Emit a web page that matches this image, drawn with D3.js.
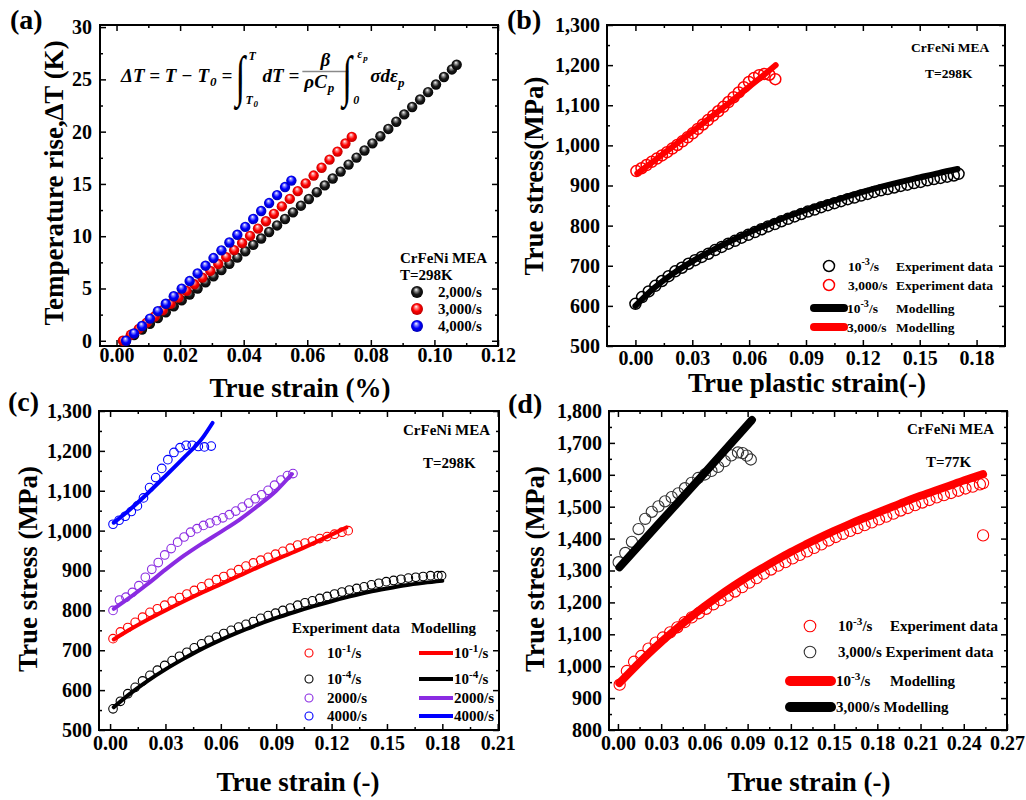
<!DOCTYPE html>
<html>
<head>
<meta charset="utf-8">
<script src="https://cdn.jsdelivr.net/npm/d3@7"></script>
<style>
  body { margin: 0; background: #fff; }
  svg text { font-family: "Liberation Serif", "Times New Roman", serif; font-weight: bold; fill: #000; }
</style>
</head>
<body>
<svg id="fig" width="1026" height="800"></svg>
<script>
// ---------- panel (a): temperature rise, [strain, dT] ----------
const aBlack = [[0.0030,0],[0.0055,0.54],[0.0080,1.08],[0.0105,1.63],[0.0130,2.18],[0.0155,2.73],[0.0180,3.29],[0.0205,3.86],[0.0230,4.43],[0.0255,5.00],[0.0280,5.59],[0.0305,6.17],[0.0330,6.76],[0.0355,7.36],[0.0380,7.95],[0.0405,8.56],[0.0430,9.17],[0.0455,9.78],[0.0480,10.40],[0.0505,11.03],[0.0530,11.65],[0.0555,12.28],[0.0580,12.92],[0.0605,13.56],[0.0630,14.21],[0.0655,14.86],[0.0680,15.52],[0.0705,16.18],[0.0730,16.85],[0.0755,17.52],[0.0780,18.20],[0.0805,18.88],[0.0830,19.56],[0.0855,20.26],[0.0880,20.95],[0.0905,21.65],[0.0930,22.36],[0.0955,23.07],[0.0980,23.78],[0.1005,24.51],[0.1030,25.23],[0.1055,25.95],[0.1070,26.40]];
const aRed = [[0.0020,0],[0.0045,0.57],[0.0070,1.14],[0.0095,1.73],[0.0120,2.32],[0.0145,2.92],[0.0170,3.53],[0.0195,4.14],[0.0220,4.77],[0.0245,5.40],[0.0270,6.04],[0.0295,6.68],[0.0320,7.34],[0.0345,8.00],[0.0370,8.67],[0.0395,9.35],[0.0420,10.03],[0.0445,10.73],[0.0470,11.43],[0.0495,12.14],[0.0520,12.85],[0.0545,13.57],[0.0570,14.31],[0.0595,15.05],[0.0620,15.80],[0.0645,16.55],[0.0670,17.32],[0.0695,18.09],[0.0720,18.87],[0.0740,19.50]];
const aBlue = [[0.0030,0],[0.0055,0.70],[0.0080,1.41],[0.0105,2.12],[0.0130,2.83],[0.0155,3.54],[0.0180,4.26],[0.0205,4.99],[0.0230,5.71],[0.0255,6.44],[0.0280,7.18],[0.0305,7.91],[0.0330,8.65],[0.0355,9.40],[0.0380,10.14],[0.0405,10.89],[0.0430,11.65],[0.0455,12.41],[0.0480,13.17],[0.0505,13.93],[0.0530,14.70],[0.0550,15.32]];
const aLabels = ['2,000/s', '3,000/s', '4,000/s'];
const aXTicks = [0, 0.02, 0.04, 0.06, 0.08, 0.10, 0.12];
const aYTicks = [0, 5, 10, 15, 20, 25, 30];

// ---------- panel (b): 298K, plastic strain ----------
const bExpSlow = [[0,605],[0.0035,622],[0.007,636],[0.0105,650],[0.014,662],[0.0175,674],[0.021,686],[0.0245,695],[0.028,705],[0.0315,714],[0.035,722],[0.0385,730],[0.042,739],[0.0455,747],[0.049,755],[0.0525,762],[0.056,770],[0.0595,777],[0.063,784],[0.0665,791],[0.07,798],[0.0735,804],[0.077,811],[0.0805,817],[0.084,823],[0.0875,829],[0.091,835],[0.0945,840],[0.098,846],[0.1015,851],[0.105,856],[0.1085,861],[0.112,866],[0.1155,870],[0.119,875],[0.1225,879],[0.126,884],[0.1295,888],[0.133,891],[0.1365,895],[0.14,899],[0.1435,902],[0.147,906],[0.1505,909],[0.154,913],[0.1575,916],[0.161,919],[0.1645,922],[0.168,925],[0.1705,929]];
const bExpFast = [[0.0005,936],[0.0032,943],[0.0059,951],[0.0086,959],[0.0113,967],[0.014,975],[0.0167,983],[0.0194,992],[0.0221,1001],[0.0248,1010],[0.0275,1020],[0.0302,1030],[0.0329,1041],[0.0356,1052],[0.0383,1063],[0.041,1074],[0.0437,1085],[0.0464,1096],[0.0491,1108],[0.0518,1120],[0.0545,1132],[0.0572,1145],[0.0599,1158],[0.0626,1168],[0.0653,1175],[0.068,1178],[0.0707,1176],[0.0738,1165]];
const bModSlow = [[0,600],[0.01,645],[0.02,681],[0.03,711],[0.04,737],[0.05,761],[0.06,783],[0.07,803],[0.08,822],[0.09,839],[0.10,855],[0.11,870],[0.12,884],[0.13,897],[0.14,909],[0.15,920],[0.16,931],[0.17,941]];
const bModFast = [[0.001,930],[0.01,962],[0.02,998],[0.03,1034],[0.04,1071],[0.05,1108],[0.06,1146],[0.07,1184],[0.074,1200]];
const bXTicks = [0, 0.03, 0.06, 0.09, 0.12, 0.15, 0.18];
const bYTicks = [500, 600, 700, 800, 900, 1000, 1100, 1200, 1300];

// ---------- panel (c): 298K, four rates ----------
const cExpM1 = [[0.0016,729],[0.0056,746],[0.0096,757],[0.0136,770],[0.0176,783],[0.0216,795],[0.0256,804],[0.0296,813],[0.0336,823],[0.0376,832],[0.0416,841],[0.0456,850],[0.0496,859],[0.0536,868],[0.0576,877],[0.0616,885],[0.0656,893],[0.0696,902],[0.0736,911],[0.0776,919],[0.0816,926],[0.0856,933],[0.0896,941],[0.0936,948],[0.0976,956],[0.1016,964],[0.1056,969],[0.1096,974],[0.1136,980],[0.1176,985],[0.1216,991],[0.1256,996],[0.1290,1000]];
const cExpM4 = [[0.0016,553],[0.0056,572],[0.0096,591],[0.0136,607],[0.0176,623],[0.0216,637],[0.0256,650],[0.0296,662],[0.0336,674],[0.0376,685],[0.0416,695],[0.0456,706],[0.0496,716],[0.0536,725],[0.0576,733],[0.0616,742],[0.0656,750],[0.0696,758],[0.0736,765],[0.0776,772],[0.0816,780],[0.0856,787],[0.0896,793],[0.0936,800],[0.0976,806],[0.1016,813],[0.1056,819],[0.1096,824],[0.1136,830],[0.1176,835],[0.1216,841],[0.1256,846],[0.1296,851],[0.1336,855],[0.1376,859],[0.1416,864],[0.1456,868],[0.1496,872],[0.1536,875],[0.1576,878],[0.1616,881],[0.1656,883],[0.1696,885],[0.1736,887],[0.1776,887],[0.1796,887]];
const cExp2000 = [[0.0016,800],[0.0051,826],[0.0086,833],[0.0121,845],[0.0156,862],[0.0191,883],[0.0226,903],[0.0261,920],[0.0296,939],[0.0331,955],[0.0366,971],[0.0401,984],[0.0436,996],[0.0471,1005],[0.0506,1013],[0.0541,1019],[0.0576,1025],[0.0611,1032],[0.0646,1040],[0.0681,1049],[0.0716,1059],[0.0751,1069],[0.0786,1080],[0.0821,1090],[0.0856,1101],[0.0891,1114],[0.0926,1127],[0.0961,1138],[0.0991,1143]];
const cExp4000 = [[0.0016,1016],[0.0049,1026],[0.0082,1036],[0.0115,1048],[0.0148,1062],[0.0181,1082],[0.0214,1108],[0.0247,1133],[0.0280,1156],[0.0313,1178],[0.0346,1196],[0.0379,1208],[0.0412,1214],[0.0445,1214],[0.0478,1211],[0.0511,1210],[0.0548,1212]];
const cModM1 = [[0.002,727],[0.01,750],[0.02,776],[0.03,800],[0.04,823],[0.05,845],[0.06,866],[0.07,887],[0.08,908],[0.09,928],[0.10,947],[0.11,968],[0.12,990],[0.128,1008]];
const cModM4 = [[0.002,557],[0.01,588],[0.02,622],[0.03,652],[0.04,679],[0.05,704],[0.06,726],[0.07,746],[0.08,764],[0.09,781],[0.10,796],[0.11,810],[0.12,823],[0.13,835],[0.14,846],[0.15,855],[0.16,863],[0.17,869],[0.18,874]];
const cMod2000 = [[0.002,804],[0.01,830],[0.02,865],[0.03,902],[0.04,937],[0.05,968],[0.06,997],[0.07,1027],[0.08,1062],[0.09,1100],[0.0985,1142]];
const cMod4000 = [[0.002,1020],[0.01,1050],[0.02,1092],[0.03,1137],[0.04,1183],[0.05,1232],[0.0555,1270]];
const cRates = [['10', '-1', '/s'], ['10', '-4', '/s'], ['2000/s', '', ''], ['4000/s', '', '']];
const cXTicks = [0, 0.03, 0.06, 0.09, 0.12, 0.15, 0.18, 0.21];
const cYTicks = [500, 600, 700, 800, 900, 1000, 1100, 1200, 1300];

// ---------- panel (d): 77K ----------
const dExpSlow = [[0.0012,942],[0.0062,985],[0.0112,1014],[0.0162,1032],[0.0212,1055],[0.0262,1074],[0.0312,1090],[0.0362,1106],[0.0412,1122],[0.0462,1138],[0.0512,1153],[0.0562,1166],[0.0612,1180],[0.0662,1194],[0.0712,1207],[0.0762,1221],[0.0812,1234],[0.0862,1248],[0.0912,1262],[0.0962,1276],[0.1012,1290],[0.1062,1303],[0.1112,1315],[0.1162,1326],[0.1212,1338],[0.1262,1349],[0.1312,1360],[0.1362,1371],[0.1412,1382],[0.1462,1394],[0.1512,1405],[0.1562,1415],[0.1612,1424],[0.1662,1433],[0.1712,1442],[0.1762,1451],[0.1812,1460],[0.1862,1469],[0.1912,1478],[0.1962,1488],[0.2012,1496],[0.2062,1505],[0.2112,1513],[0.2162,1521],[0.2212,1529],[0.2262,1536],[0.2312,1543],[0.2362,1550],[0.2412,1557],[0.2462,1563],[0.2512,1570],[0.2534,1574],[0.2534,1410]];
const dExpFast = [[0.0005,1326],[0.0051,1355],[0.0097,1390],[0.0143,1430],[0.0189,1462],[0.0235,1484],[0.0281,1501],[0.0327,1517],[0.0373,1530],[0.0419,1542],[0.0465,1558],[0.0511,1575],[0.0557,1590],[0.0603,1601],[0.0649,1612],[0.0695,1625],[0.0741,1643],[0.0787,1661],[0.0833,1670],[0.0865,1668],[0.0895,1660],[0.0922,1648]];
const dModSlow = [[0.001,947],[0.01,989],[0.02,1034],[0.03,1076],[0.04,1115],[0.05,1152],[0.06,1187],[0.07,1220],[0.08,1251],[0.09,1280],[0.10,1307],[0.11,1333],[0.12,1358],[0.13,1381],[0.14,1403],[0.15,1424],[0.16,1444],[0.17,1463],[0.18,1481],[0.19,1499],[0.20,1517],[0.21,1534],[0.22,1550],[0.23,1566],[0.24,1582],[0.2534,1602]];
const dModFast = [[0.001,1310],[0.03,1455],[0.06,1605],[0.093,1772]];
const dXTicks = [0, 0.03, 0.06, 0.09, 0.12, 0.15, 0.18, 0.21, 0.24, 0.27];
const dYTicks = [800, 900, 1000, 1100, 1200, 1300, 1400, 1500, 1600, 1700, 1800];

const RED = '#ff0000', BLUE = '#0000ff', PURPLE = '#8a2be2';

const svg = d3.select('#fig');
const defs = svg.append('defs');

// shaded balls for panel (a)
function ball(id, light, mid, dark) {
  const gr = defs.append('radialGradient').attr('id', id)
    .attr('cx', '50%').attr('cy', '50%').attr('r', '55%').attr('fx', '42%').attr('fy', '28%');
  gr.append('stop').attr('offset', '0%').attr('stop-color', '#fff');
  gr.append('stop').attr('offset', '22%').attr('stop-color', light);
  gr.append('stop').attr('offset', '55%').attr('stop-color', mid);
  gr.append('stop').attr('offset', '100%').attr('stop-color', dark);
}
ball('ballBlack', '#9a9a9a', '#1a1a1a', '#000');
ball('ballRed', '#ff8c8c', '#ff0000', '#b00000');
ball('ballBlue', '#8c8cff', '#0000ff', '#0000a8');

function buildPanel(p) {
  const x = d3.scaleLinear().domain(p.xDomain).range([p.left, p.right]);
  const y = d3.scaleLinear().domain(p.yDomain).range([p.bottom, p.top]);
  const g = svg.append('g');

  const axes = [
    [d3.axisBottom(x).tickValues(p.xTicks).tickFormat(d3.format('.2f')).tickPadding(p.xPad), p.bottom, 'x', -6],
    [d3.axisBottom(x).tickValues(p.xMinor).tickFormat(''), p.bottom, 'x', -3],
    [d3.axisTop(x).tickValues(p.xTicks).tickFormat(''), p.top, 'x', -6],
    [d3.axisTop(x).tickValues(p.xMinor).tickFormat(''), p.top, 'x', -3],
    [d3.axisLeft(y).tickValues(p.yTicks).tickFormat(p.yFormat).tickPadding(p.yPad), p.left, 'y', -6],
    [d3.axisLeft(y).tickValues(p.yMinor).tickFormat(''), p.left, 'y', -3],
    [d3.axisRight(y).tickValues(p.yTicks).tickFormat(''), p.right, 'y', -6],
    [d3.axisRight(y).tickValues(p.yMinor).tickFormat(''), p.right, 'y', -3]
  ];
  axes.forEach(([ax, pos, dir, size]) => {
    const a = g.append('g')
      .attr('transform', dir === 'x' ? `translate(0,${pos})` : `translate(${pos},0)`)
      .call(ax.tickSizeInner(size).tickSizeOuter(0));
    a.attr('font-size', 20).attr('font-family', null);
    a.select('.domain').remove();
    a.selectAll('line').attr('stroke', '#000').attr('stroke-width', 1.5);
  });

  g.append('rect')
    .attr('x', p.left).attr('y', p.top)
    .attr('width', p.right - p.left).attr('height', p.bottom - p.top)
    .attr('fill', 'none').attr('stroke', '#000').attr('stroke-width', 2);

  svg.append('text').attr('x', p.tag[0]).attr('y', p.tag[1])
    .attr('font-size', 28).text(p.tagText);
  svg.append('text').attr('x', p.xTitle[0]).attr('y', p.xTitle[1])
    .attr('text-anchor', 'middle').attr('font-size', 27).text(p.xTitleText);
  svg.append('text')
    .attr('transform', `translate(${p.yTitle[0]},${p.yTitle[1]}) rotate(-90)`)
    .attr('text-anchor', 'middle').attr('font-size', 27).text(p.yTitleText);

  const plot = svg.append('g');
  return { x, y, plot };
}

function openCircles(panel, data, color, r, sw) {
  panel.plot.append('g').selectAll('circle').data(data).join('circle')
    .attr('cx', d => panel.x(d[0])).attr('cy', d => panel.y(d[1]))
    .attr('r', r).attr('fill', 'none').attr('stroke', color).attr('stroke-width', sw);
}

function modelLine(panel, data, color, w) {
  panel.plot.append('path').datum(data)
    .attr('d', d3.line().x(d => panel.x(d[0])).y(d => panel.y(d[1])).curve(d3.curveMonotoneX))
    .attr('fill', 'none').attr('stroke', color).attr('stroke-width', w)
    .attr('stroke-linecap', 'round').attr('stroke-linejoin', 'round');
}

function rateText(sel, base, sup, tail) {
  sel.append('tspan').text(base);
  if (sup) {
    sel.append('tspan').attr('dy', -6).attr('font-size', '0.75em').text(sup);
    sel.append('tspan').attr('dy', 6).text(tail);
  }
}

function note(x, y, size, str) {
  svg.append('text').attr('x', x).attr('y', y).attr('font-size', size).text(str);
}

// ================= (a) =================
const pa = buildPanel({
  left: 100, right: 498, top: 25, bottom: 346,
  xDomain: [-0.0052, 0.12], yDomain: [-0.5, 30.2],
  xTicks: aXTicks, xMinor: [0.01, 0.03, 0.05, 0.07, 0.09, 0.11],
  yTicks: aYTicks, yMinor: [2.5, 7.5, 12.5, 17.5, 22.5, 27.5],
  yFormat: d3.format('d'), xPad: 2, yPad: 8,
  tag: [10, 29], tagText: '(a)',
  xTitle: [300, 397], xTitleText: 'True strain (%)',
  yTitle: [63, 183], yTitleText: 'Temperature rise,\u2206T (K)'
});
[[aBlack, 'ballBlack'], [aRed, 'ballRed'], [aBlue, 'ballBlue']].forEach(([data, fill]) => {
  pa.plot.append('g').selectAll('circle').data(data).join('circle')
    .attr('cx', d => pa.x(d[0])).attr('cy', d => pa.y(d[1]))
    .attr('r', 5.2).attr('fill', `url(#${fill})`);
});
note(400, 263, 15, 'CrFeNi MEA');
note(400, 280, 15, 'T=298K');
['ballBlack', 'ballRed', 'ballBlue'].forEach((fill, i) => {
  const cy = 292 + i * 17;
  svg.append('circle').attr('cx', 417).attr('cy', cy).attr('r', 6).attr('fill', `url(#${fill})`);
  note(438, cy + 5, 15, aLabels[i]);
});

// equation, laid out left to right with measured widths
const eq = svg.append('g');
function eqText(x, y, size, str, anchor) {
  const t = eq.append('text').attr('x', x).attr('y', y).attr('font-size', size)
    .attr('font-style', 'italic').attr('text-anchor', anchor || 'start').text(str);
  return t.node().getComputedTextLength();
}
function integral(x) {
  eq.append('text').attr('transform', `translate(${x},95) scale(0.62,1)`)
    .attr('font-size', 56).attr('font-weight', 'normal').text('\u222B');
}
const eqBase = 82;
let cx = 121;
cx += eqText(cx, eqBase, 19, '\u0394T = T \u2212 T');
cx += eqText(cx + 1, eqBase + 4, 13, '0') + 6;
cx += eqText(cx, eqBase, 19, '=') + 3;
integral(cx);
eqText(cx + 13, 60, 12, 'T');
eqText(cx + 10, 104, 12, 'T');
eqText(cx + 18, 107, 9, '0');
cx += 27;
cx += eqText(cx, eqBase, 19, 'dT') + 5;
cx += eqText(cx, eqBase, 19, '=') + 3;
eq.append('line').attr('x1', cx).attr('x2', cx + 46).attr('y1', 71.5).attr('y2', 71.5)
  .attr('stroke', '#8a8a8a').attr('stroke-width', 1.3);
eqText(cx + 23, 66, 19, '\u03B2', 'middle');
const rc = eqText(cx + 2, 88, 19, '\u03C1C');
eqText(cx + 3 + rc, 92, 13, 'p');
cx += 40;
integral(cx);
eqText(cx + 15, 58, 12, '\u03B5');
eqText(cx + 21, 61, 9, 'p');
eqText(cx + 11, 104, 12, '0');
cx += 28;
cx += eqText(cx, eqBase, 19, '\u03C3d\u03B5');
eqText(cx, eqBase + 5, 13, 'p');

// ================= (b) =================
const pb = buildPanel({
  left: 607, right: 1005, top: 25, bottom: 346,
  xDomain: [-0.015, 0.195], yDomain: [500, 1300],
  xTicks: bXTicks, xMinor: [0.015, 0.045, 0.075, 0.105, 0.135, 0.165],
  yTicks: bYTicks, yMinor: [550, 650, 750, 850, 950, 1050, 1150, 1250],
  yFormat: d3.format(','), xPad: 5, yPad: 7,
  tag: [507, 29], tagText: '(b)',
  xTitle: [807, 392], xTitleText: 'True plastic strain(-)',
  yTitle: [543, 176], yTitleText: 'True stress(MPa)'
});
openCircles(pb, bExpSlow, '#000', 5.5, 1.5);
openCircles(pb, bExpFast, RED, 5.5, 1.5);
modelLine(pb, bModSlow, '#000', 6);
modelLine(pb, bModFast, RED, 6);
note(911, 52, 13.5, 'CrFeNi MEA');
note(925, 78, 13.5, 'T=298K');
[[266, '#000', ['10', '-3', '/s']], [285, RED, ['3,000/s', '', '']]].forEach(([cy, col, r]) => {
  svg.append('circle').attr('cx', 829).attr('cy', cy).attr('r', 5.5)
    .attr('fill', 'none').attr('stroke', col).attr('stroke-width', 1.5);
  rateText(svg.append('text').attr('x', 848).attr('y', cy + 5).attr('font-size', 13.5), ...r);
  note(896, cy + 5, 13.5, 'Experiment data');
});
[[308, '#000', ['10', '-3', '/s']], [327, RED, ['3,000/s', '', '']]].forEach(([cy, col, r]) => {
  svg.append('line').attr('x1', 814).attr('x2', 844).attr('y1', cy).attr('y2', cy)
    .attr('stroke', col).attr('stroke-width', 8).attr('stroke-linecap', 'round');
  rateText(svg.append('text').attr('x', 847).attr('y', cy + 5).attr('font-size', 13.5), ...r);
  note(896, cy + 5, 13.5, 'Modelling');
});

// ================= (c) =================
const pc = buildPanel({
  left: 99, right: 499, top: 411, bottom: 730,
  xDomain: [-0.006, 0.2107], yDomain: [500, 1300],
  xTicks: cXTicks, xMinor: [0.015, 0.045, 0.075, 0.105, 0.135, 0.165, 0.195],
  yTicks: cYTicks, yMinor: [550, 650, 750, 850, 950, 1050, 1150, 1250],
  yFormat: d3.format(','), xPad: 6, yPad: 7,
  tag: [8, 411], tagText: '(c)',
  xTitle: [298, 791], xTitleText: 'True strain (-)',
  yTitle: [37, 569], yTitleText: 'True stress (MPa)'
});
const cSeries = [
  [cExpM1, cModM1, RED], [cExpM4, cModM4, '#000'],
  [cExp2000, cMod2000, PURPLE], [cExp4000, cMod4000, BLUE]
];
[cSeries[1], cSeries[0], cSeries[2], cSeries[3]].forEach(([exp, mod, col]) => {
  openCircles(pc, exp, col, 4.3, 1.1);
  modelLine(pc, mod, col, 4);
});
note(403, 435, 15, 'CrFeNi MEA');
note(423, 468, 15, 'T=298K');
note(292, 633, 15, 'Experiment data');
note(411, 633, 15, 'Modelling');
[653, 679, 698, 716].forEach((cy, i) => {
  const col = cSeries[i][2];
  svg.append('circle').attr('cx', 309).attr('cy', cy).attr('r', 4)
    .attr('fill', 'none').attr('stroke', col).attr('stroke-width', 1.1);
  rateText(svg.append('text').attr('x', 327).attr('y', cy + 5).attr('font-size', 15), ...cRates[i]);
  svg.append('line').attr('x1', 419).attr('x2', 453).attr('y1', cy).attr('y2', cy)
    .attr('stroke', col).attr('stroke-width', 4);
  rateText(svg.append('text').attr('x', 454).attr('y', cy + 5).attr('font-size', 15), ...cRates[i]);
});

// ================= (d) =================
const pd = buildPanel({
  left: 609, right: 1007, top: 411, bottom: 730,
  xDomain: [-0.0062, 0.27], yDomain: [800, 1800],
  xTicks: dXTicks, xMinor: [0.015, 0.045, 0.075, 0.105, 0.135, 0.165, 0.195, 0.225, 0.255],
  yTicks: dYTicks, yMinor: [850, 950, 1050, 1150, 1250, 1350, 1450, 1550, 1650, 1750],
  yFormat: d3.format(','), xPad: 6, yPad: 7,
  tag: [508, 413], tagText: '(d)',
  xTitle: [809, 791], xTitleText: 'True strain (-)',
  yTitle: [544, 569], yTitleText: 'True stress (MPa)'
});
openCircles(pd, dExpSlow, RED, 5.6, 1.1);
openCircles(pd, dExpFast, '#333', 5.6, 1.1);
modelLine(pd, dModSlow, RED, 8);
modelLine(pd, dModFast, '#000', 8);
note(907, 434, 15, 'CrFeNi MEA');
note(926, 467, 15, 'T=77K');
svg.append('circle').attr('cx', 810).attr('cy', 626).attr('r', 5.8)
  .attr('fill', 'none').attr('stroke', RED).attr('stroke-width', 1.1);
rateText(svg.append('text').attr('x', 838).attr('y', 631).attr('font-size', 15), '10', '-3', '/s');
note(890, 631, 15, 'Experiment data');
svg.append('circle').attr('cx', 810).attr('cy', 652).attr('r', 5.8)
  .attr('fill', 'none').attr('stroke', '#333').attr('stroke-width', 1.1);
note(838, 657, 15, '3,000/s Experiment data');
svg.append('line').attr('x1', 790).attr('x2', 831).attr('y1', 681).attr('y2', 681)
  .attr('stroke', RED).attr('stroke-width', 10).attr('stroke-linecap', 'round');
rateText(svg.append('text').attr('x', 836).attr('y', 686).attr('font-size', 15), '10', '-3', '/s');
note(890, 686, 15, 'Modelling');
svg.append('line').attr('x1', 790).attr('x2', 831).attr('y1', 707).attr('y2', 707)
  .attr('stroke', '#000').attr('stroke-width', 10).attr('stroke-linecap', 'round');
note(836, 712, 15, '3,000/s Modelling');
</script>
</body>
</html>
